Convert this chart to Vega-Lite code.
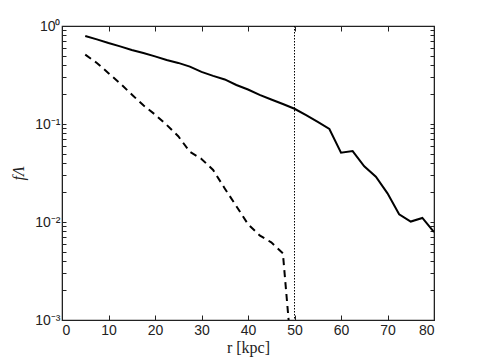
{
  "$schema": "https://vega.github.io/schema/vega-lite/v6.json",
  "width": 372,
  "height": 294,
  "autosize": {"type": "none"},
  "padding": {"left": 62, "top": 26, "right": 46, "bottom": 40},
  "background": "white",
  "config": {
    "font": "Liberation Sans",
    "view": {"stroke": "#222", "strokeWidth": 1.2},
    "axis": {"labelFont": "Liberation Sans", "labelFontSize": 14, "labelColor": "#222", "titleFont": "Liberation Serif", "titleFontSize": 16, "titleFontWeight": "normal", "titleColor": "#222", "domainColor": "#222", "tickColor": "#222", "grid": false}
  },
  "datasets": {
    "solid": [
      {"r": 5, "f": 0.79}, {"r": 7.5, "f": 0.73}, {"r": 10, "f": 0.67}, {"r": 12.5, "f": 0.62},
      {"r": 15, "f": 0.57}, {"r": 17.5, "f": 0.53}, {"r": 20, "f": 0.49}, {"r": 22.5, "f": 0.45},
      {"r": 25, "f": 0.42}, {"r": 27.5, "f": 0.385}, {"r": 30, "f": 0.34}, {"r": 32.5, "f": 0.31},
      {"r": 35, "f": 0.285}, {"r": 37.5, "f": 0.25}, {"r": 40, "f": 0.225}, {"r": 42.5, "f": 0.198},
      {"r": 45, "f": 0.178}, {"r": 47.5, "f": 0.16}, {"r": 50, "f": 0.143}, {"r": 52.5, "f": 0.123},
      {"r": 55, "f": 0.105}, {"r": 57.5, "f": 0.089}, {"r": 60, "f": 0.051}, {"r": 62.5, "f": 0.053},
      {"r": 65, "f": 0.037}, {"r": 67.5, "f": 0.029}, {"r": 70, "f": 0.0196}, {"r": 72.5, "f": 0.012},
      {"r": 75, "f": 0.0101}, {"r": 77.5, "f": 0.011}, {"r": 80, "f": 0.0079}
    ],
    "dashed": [
      {"r": 5, "f": 0.51}, {"r": 7.5, "f": 0.42}, {"r": 10, "f": 0.33}, {"r": 12.5, "f": 0.26},
      {"r": 15, "f": 0.2}, {"r": 17.5, "f": 0.155}, {"r": 20, "f": 0.125}, {"r": 22.5, "f": 0.098},
      {"r": 25, "f": 0.075}, {"r": 27.5, "f": 0.052}, {"r": 30, "f": 0.044}, {"r": 32.5, "f": 0.034},
      {"r": 35, "f": 0.022}, {"r": 37.5, "f": 0.0145}, {"r": 40, "f": 0.0095}, {"r": 42.5, "f": 0.0073},
      {"r": 45, "f": 0.0062}, {"r": 47.5, "f": 0.0048}, {"r": 50, "f": 0.0002}
    ],
    "vline": [{"r": 50}]
  },
  "layer": [
    {
      "data": {"name": "solid"},
      "mark": {"type": "line", "color": "black", "strokeWidth": 2, "clip": true},
      "encoding": {
        "x": {"field": "r", "type": "quantitative", "scale": {"domain": [0, 80], "nice": false},
          "axis": {"values": [0, 10, 20, 30, 40, 50, 60, 70, 80], "tickSize": -5, "labelPadding": 8, "labelFont": "Liberation Sans", "title": "r [kpc]", "titleFont": "Liberation Serif", "titlePadding": 2, "titleFontStyle": "normal"}},
        "y": {"field": "f", "type": "quantitative", "scale": {"type": "log", "domain": [0.001, 1], "nice": false},
          "axis": {"values": [0.001,0.002,0.003,0.004,0.005,0.006,0.007,0.008,0.009,0.01,0.02,0.03,0.04,0.05,0.06,0.07,0.08,0.09,0.1,0.2,0.3,0.4,0.5,0.6,0.7,0.8,0.9,1],
            "labelExpr": "datum.value==1?'10⁰':datum.value==0.1?'10⁻¹':datum.value==0.01?'10⁻²':datum.value==0.001?'10⁻³':''",
            "labelFont": "Liberation Sans",
            "tickSize": -4, "labelPadding": 6, "title": "fΛ", "titleFont": "Liberation Serif", "titleFontStyle": "italic", "titlePadding": 8}}
      }
    },
    {
      "data": {"name": "dashed"},
      "mark": {"type": "line", "color": "black", "strokeWidth": 2, "strokeDash": [7, 5], "clip": true},
      "encoding": {
        "x": {"field": "r", "type": "quantitative",
          "axis": {"orient": "top", "values": [0, 10, 20, 30, 40, 50, 60, 70, 80], "tickSize": -5, "labels": false, "title": null}},
        "y": {"field": "f", "type": "quantitative",
          "axis": {"orient": "right", "values": [0.001,0.002,0.003,0.004,0.005,0.006,0.007,0.008,0.009,0.01,0.02,0.03,0.04,0.05,0.06,0.07,0.08,0.09,0.1,0.2,0.3,0.4,0.5,0.6,0.7,0.8,0.9,1],
            "tickSize": -4, "labels": false, "title": null}}
      }
    },
    {
      "data": {"name": "vline"},
      "mark": {"type": "rule", "color": "black", "strokeWidth": 1, "strokeDash": [1.5, 1.5]},
      "encoding": {
        "x": {"field": "r", "type": "quantitative", "axis": null}
      }
    }
  ],
  "resolve": {"axis": {"x": "independent", "y": "independent"}}
}
